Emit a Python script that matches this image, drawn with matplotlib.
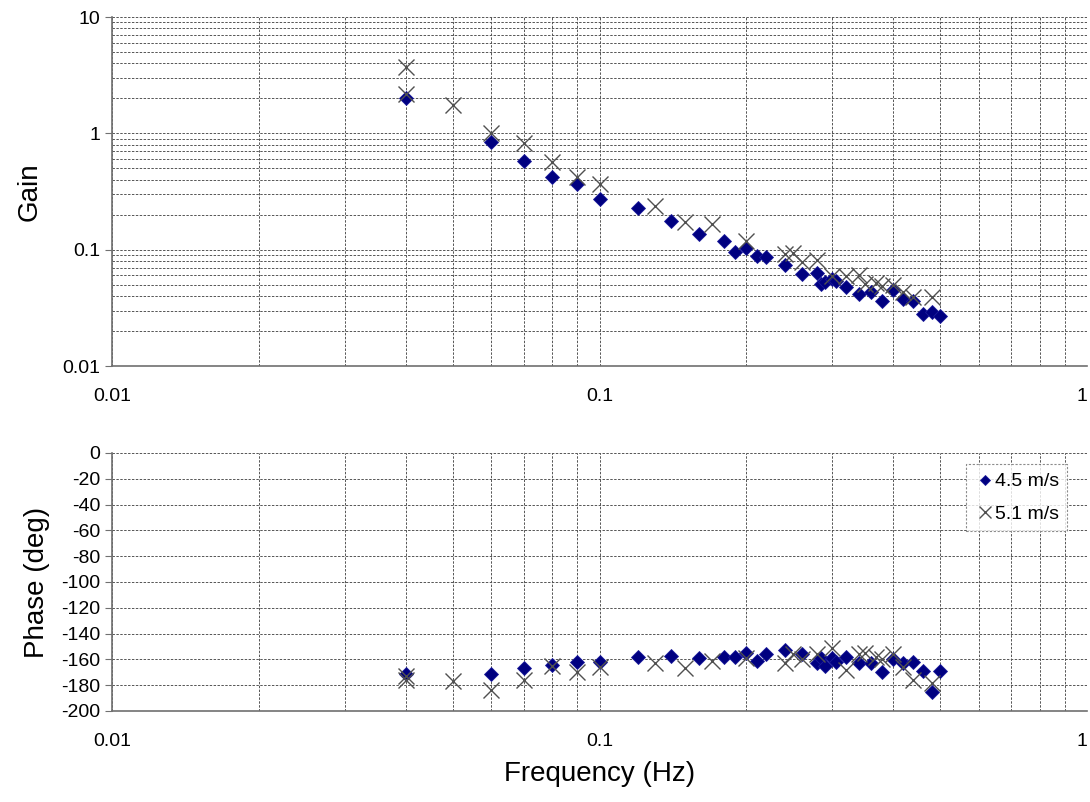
import matplotlib
matplotlib.use("Agg")
from matplotlib import pyplot as plt
from matplotlib.ticker import FixedLocator, LogLocator, NullFormatter, FuncFormatter

plt.rcParams['font.family'] = ['Liberation Sans', 'DejaVu Sans']
plt.rcParams['axes.unicode_minus'] = False

# 4.5 m/s (diamonds)
freq_45 = [0.04, 0.06, 0.07, 0.08, 0.09, 0.1, 0.12, 0.14, 0.16, 0.18, 0.19, 0.2,
           0.21, 0.22, 0.24, 0.26, 0.28, 0.285, 0.29, 0.30, 0.305, 0.32, 0.34,
           0.36, 0.38, 0.40, 0.42, 0.44, 0.46, 0.48, 0.50]
gain_45 = [2.0, 0.845, 0.58, 0.42, 0.37, 0.274, 0.23, 0.177, 0.137, 0.119, 0.096, 0.104,
           0.089, 0.087, 0.074, 0.062, 0.063, 0.051, 0.053, 0.056, 0.054, 0.048, 0.042,
           0.043, 0.036, 0.045, 0.038, 0.036, 0.028, 0.029, 0.027]
phase_45 = [-171, -171, -167, -164, -162, -162, -158, -157, -159, -158, -158, -155,
            -161, -156, -153, -156, -163, -159, -165, -159, -162, -158, -163,
            -163, -170, -160, -163, -162, -169, -185, -169]

# 5.1 m/s (crosses)
freq_51 = [0.04, 0.04, 0.05, 0.06, 0.07, 0.08, 0.09, 0.1, 0.13, 0.15, 0.17, 0.2,
           0.24, 0.25, 0.26, 0.28, 0.30, 0.32, 0.34, 0.35, 0.37, 0.38, 0.40,
           0.42, 0.44, 0.48]
gain_51 = [3.7, 2.2, 1.76, 1.0, 0.83, 0.57, 0.42, 0.37, 0.239, 0.174, 0.167, 0.119,
           0.091, 0.094, 0.079, 0.082, 0.059, 0.059, 0.061, 0.051, 0.052, 0.049, 0.050,
           0.043, 0.039, 0.039]
phase_51 = [-176, -173, -177, -184, -176, -165, -170, -166, -163, -167, -161, -159,
            -163, -156, -160, -156, -151, -168, -156, -155, -158, -160, -156,
            -166, -176, -178]

x_ticks = [0.01, 0.1, 1]
gain_ticks = [0.01, 0.1, 1, 10]
phase_ticks = list(range(-200, 1, 20))

DIAMOND = dict(marker='D', color='#000080', markersize=7, linestyle='none',
               markeredgecolor='#1a1a9a', markeredgewidth=0.6)
CROSS = dict(marker='x', color='#505050', markersize=11, linestyle='none',
             markeredgewidth=1.0)
GRID = dict(color='#555555', linestyle=(0, (2.5, 1.5)), linewidth=0.7)


def plain(v, pos):
    return '%g' % v


def style_axes(ax):
    ax.set_xscale('log')
    ax.set_xlim(0.01, 1)
    ax.xaxis.set_major_locator(FixedLocator(x_ticks))
    ax.xaxis.set_minor_locator(LogLocator(base=10, subs=range(2, 10)))
    ax.xaxis.set_major_formatter(FuncFormatter(plain))
    ax.xaxis.set_minor_formatter(NullFormatter())
    ax.grid(True, which='both', axis='x', **GRID)
    for s in ['top', 'right']:
        ax.spines[s].set_visible(False)
    for s in ['left', 'bottom']:
        ax.spines[s].set_color('#707070')
        ax.spines[s].set_linewidth(1.2)
    ax.tick_params(axis='x', which='both', length=0, labelsize=14, pad=16)
    ax.tick_params(axis='y', which='major', length=5, color='#707070',
                   labelsize=14, direction='out')
    ax.tick_params(axis='y', which='minor', length=0)
    # keep the "1" at the right end inside the figure
    ax.xaxis.get_major_ticks()[-1].label1.set_horizontalalignment('right')


fig = plt.figure(figsize=(10.9, 8.02), dpi=100)
ax1 = fig.add_axes([0.1028, 0.5436, 0.8944, 0.4352])
ax2 = fig.add_axes([0.1028, 0.1135, 0.8944, 0.3217])

# gain
style_axes(ax1)
ax1.set_yscale('log')
ax1.set_ylim(0.01, 10)
ax1.yaxis.set_major_locator(FixedLocator(gain_ticks))
ax1.yaxis.set_minor_locator(LogLocator(base=10, subs=range(2, 10)))
ax1.yaxis.set_major_formatter(FuncFormatter(plain))
ax1.yaxis.set_minor_formatter(NullFormatter())
ax1.grid(True, which='both', axis='y', **GRID)
ax1.plot(freq_45, gain_45, **DIAMOND, zorder=3)
ax1.plot(freq_51, gain_51, **CROSS, zorder=4)
ax1.set_ylabel('Gain', fontsize=20, labelpad=14)

# phase
style_axes(ax2)
ax2.set_ylim(-200, 0)
ax2.yaxis.set_major_locator(FixedLocator(phase_ticks))
ax2.grid(True, which='major', axis='y', **GRID)
ax2.plot(freq_45, phase_45, **DIAMOND, zorder=3, label='4.5 m/s')
ax2.plot(freq_51, phase_51, **CROSS, zorder=4, label='5.1 m/s')
ax2.set_ylabel('Phase (deg)', fontsize=20, labelpad=8)
ax2.set_xlabel('Frequency (Hz)', fontsize=20, labelpad=8)

leg = ax2.legend(loc='upper right', bbox_to_anchor=(0.99, 0.995), fontsize=14,
                 frameon=True, fancybox=False, handletextpad=0.0,
                 handlelength=1.0, borderpad=0.45, labelspacing=0.75,
                 markerscale=0.8)
leg.get_frame().set_edgecolor('#707070')
leg.get_frame().set_linestyle((0, (2, 1.5)))
leg.get_frame().set_linewidth(0.8)

fig.savefig('out.png', dpi=100)
